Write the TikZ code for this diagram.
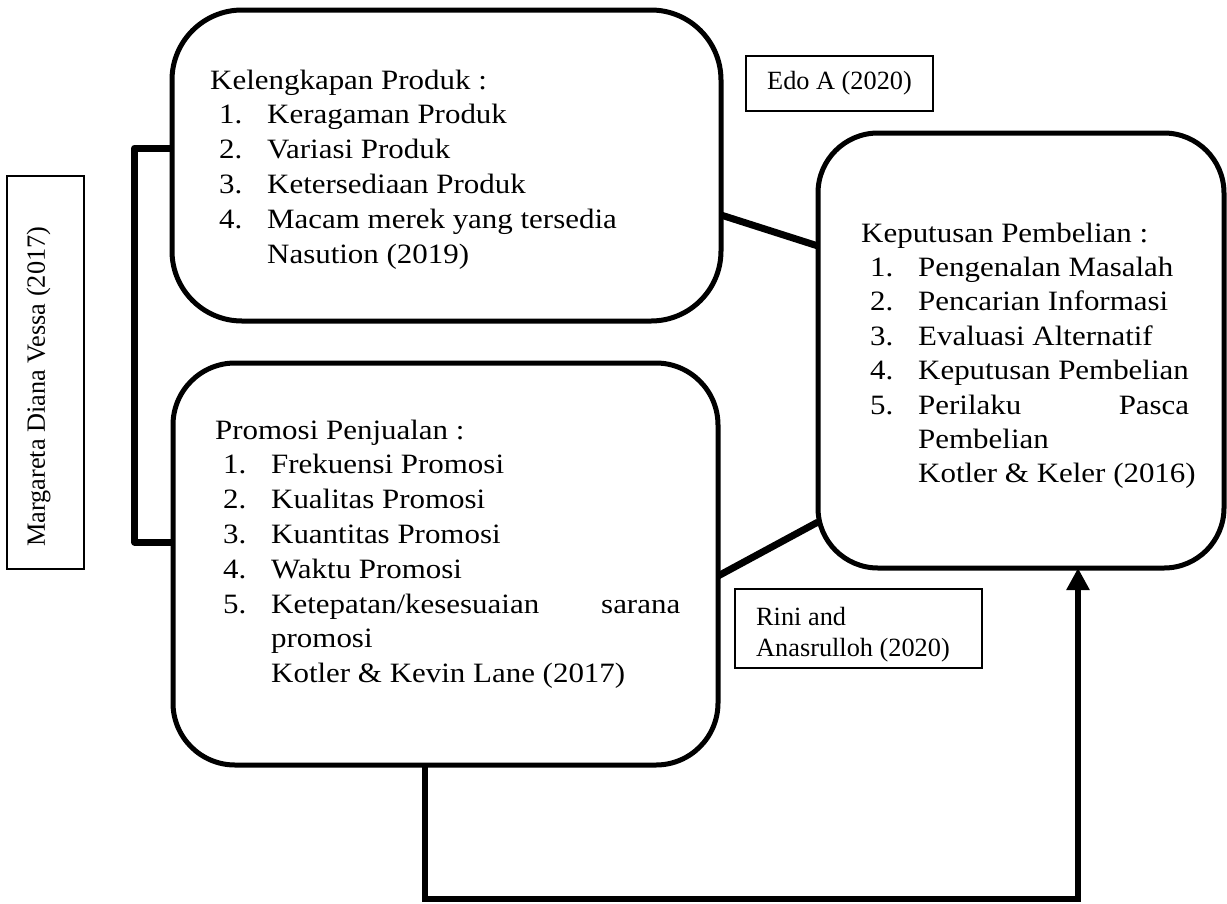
\documentclass[tikz,border=0pt]{standalone}
\usepackage{fontspec}
\setmainfont{Liberation Serif}
\newfontfamily\bodyfont{Liberation Serif}[FakeStretch=1.105]
\usetikzlibrary{arrows.meta}
\newcommand\lstitm[2]{\makebox[48pt][l]{#1}#2}
\newcommand\bodysize{\bodyfont\fontsize{28}{34.8}\selectfont}
\begin{document}
\begin{tikzpicture}[x=1pt,y=-1pt,
  bigbox/.style={draw, line width=5pt, inner sep=0pt, outer sep=0pt},
  citebox/.style={draw, line width=2pt, inner sep=0pt, outer sep=0pt},
  citefont/.style={font=\fontsize{26.3}{31}\selectfont},
  bodytext/.style={anchor=base west, inner sep=0pt, align=left},
  conn/.style={line width=7pt, line join=round},
  flow/.style={line width=6pt, line join=miter}]
\useasboundingbox (0,0) rectangle (1227,903);

% main boxes
\node[bigbox, rounded corners=70pt, minimum width=549pt, minimum height=311pt] (kel) at (446.5,165.5) {};
\node[bigbox, rounded corners=62pt, minimum width=545pt, minimum height=402pt] (pro) at (445.5,564) {};
\node[bigbox, rounded corners=60pt, minimum width=406pt, minimum height=435pt] (kep) at (1021,350.5) {};

% texts of main boxes
\node[bodytext] (kelt) at (210,89) {\parbox[t]{500pt}{\bodysize
Kelengkapan Produk :\\
\hspace*{9pt}\lstitm{1.}{Keragaman Produk}\\
\hspace*{9pt}\lstitm{2.}{Variasi Produk}\\
\hspace*{9pt}\lstitm{3.}{Ketersediaan Produk}\\
\hspace*{9pt}\lstitm{4.}{Macam merek yang tersedia}\\
\hspace*{57pt}Nasution (2019)}};

\node[bodytext] (prot) at (215,439) {\parbox[t]{500pt}{\bodysize
Promosi Penjualan :\\
\hspace*{8pt}\lstitm{1.}{Frekuensi Promosi}\\
\hspace*{8pt}\lstitm{2.}{Kualitas Promosi}\\
\hspace*{8pt}\lstitm{3.}{Kuantitas Promosi}\\
\hspace*{8pt}\lstitm{4.}{Waktu Promosi}\\
\hspace*{8pt}\lstitm{5.}{\makebox[409pt][s]{Ketepatan/kesesuaian\hfill sarana}}\\
\hspace*{56pt}promosi\\
\hspace*{56pt}Kotler \& Kevin Lane (2017)}};

\node[bodytext] (kept) at (861,242) {\parbox[t]{360pt}{\bodyfont\fontsize{28}{34.4}\selectfont
Keputusan Pembelian :\\
\hspace*{9pt}\lstitm{1.}{Pengenalan Masalah}\\
\hspace*{9pt}\lstitm{2.}{Pencarian Informasi}\\
\hspace*{9pt}\lstitm{3.}{Evaluasi Alternatif}\\
\hspace*{9pt}\lstitm{4.}{Keputusan Pembelian}\\
\hspace*{9pt}\lstitm{5.}{\makebox[271pt][s]{Perilaku\hfill Pasca}}\\
\hspace*{57pt}Pembelian\\
\hspace*{57pt}Kotler \& Keler (2016)}};

% citation boxes
\node[citebox, citefont, minimum width=187pt, minimum height=55pt] (edo) at (839.5,83.5) {Edo A (2020)};
\node[citebox, minimum width=247pt, minimum height=79pt] (rini) at (858.5,628.5) {};
\node[bodytext, citefont] (rinit) at (756,625) {\parbox[t]{230pt}{\fontsize{26.3}{31}\selectfont Rini and\\Anasrulloh (2020)}};
\node[citebox, minimum width=77pt, minimum height=393pt] (mdv) at (45.5,372.5) {};
\node[citefont, rotate=90, anchor=base west, inner sep=0pt] (mdvt) at (45,547) {Margareta Diana Vessa (2017)};

% connectors
\draw[conn] (kel.east |- 0,215) -- (kep.west |- 0,246);
\draw[conn] (pro.east |- 0,576) -- (kep.west |- 0,522);
\draw[conn] (kel.west |- 0,148) -- ++(-37.5,0) |- (pro.west |- 0,542);
\draw[flow, -{Triangle[width=22pt,length=22pt]}] (pro.south -| 425,0) |- (1078,899) -- (kep.south -| 1078,0);
\end{tikzpicture}
\end{document}
